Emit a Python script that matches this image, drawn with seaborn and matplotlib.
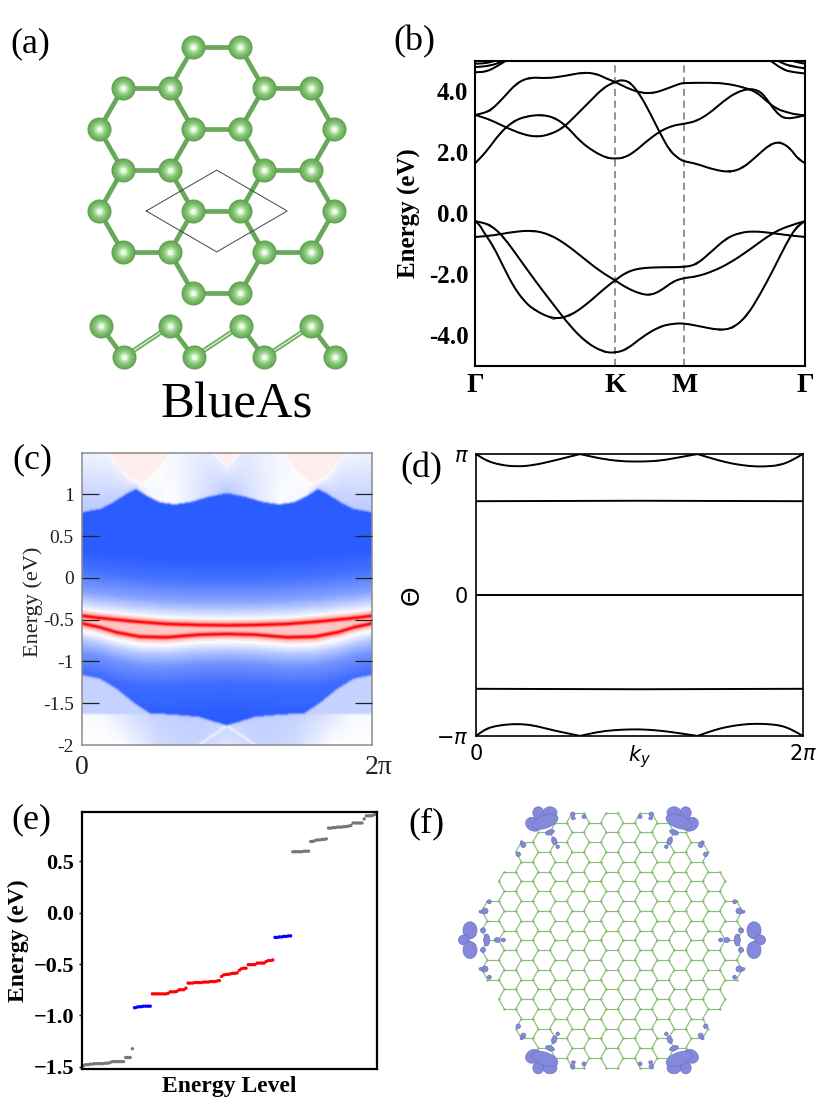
import numpy as np
import pandas as pd
import matplotlib
matplotlib.use("Agg")
import matplotlib.pyplot as plt
from matplotlib.colors import LinearSegmentedColormap
from matplotlib.collections import LineCollection
from matplotlib.patches import Ellipse, PathPatch
from matplotlib.path import Path
from matplotlib.transforms import ScaledTranslation
import seaborn as sns

sns.set_theme(style="white")
SERIF = ["Liberation Serif", "DejaVu Serif"]
plt.rcParams["font.family"] = SERIF
plt.rcParams["mathtext.fontset"] = "dejavusans"

W, H = 830, 1114

# ---------- (a) structure, in units of the in-plane bond length ----------
atom_x = [-.5, .5, -2, -1, 1, 2, -2.5, -.5, .5, 2.5, -2, -1, 1, 2, -2.5, -.5, .5, 2.5, -2, -1, 1, 2, -.5, .5]
atom_y = [3.48, 3.48, 2.61, 2.61, 2.61, 2.61, 1.74, 1.74, 1.74, 1.74, .87, .87, .87, .87,
          0, 0, 0, 0, -.87, -.87, -.87, -.87, -1.74, -1.74]
cell_x = [-1.5, 0, 1.5, 0, -1.5]
cell_y = [0, .87, 0, -.87, 0]
side_x = [-2.47, -1.98, -.99, -.49, .51, 1.01, 2.01, 2.51]
side_y = [-2.45, -3.11, -2.45, -3.11, -2.45, -3.11, -2.45, -3.11]

# ---------- (b) band structure: path length (K=419, M=627, Gamma=989), energy in eV ----------
path_ticks = [0, 419, 627, 989]
path_labels = ["Γ", "K", "M", "Γ"]
bands = {
    "c1": ([0, 34, 74, 114, 154, 199, 239, 274, 314, 354, 394, 419, 444, 474, 514, 554, 594, 627, 664, 704, 744, 784, 824, 854, 874, 894, 914, 934, 964, 989],
           [1.64, 2.03, 2.63, 3.02, 3.18, 3.23, 3.13, 2.85, 2.36, 2.03, 1.81, 1.79, 1.81, 1.98, 2.36, 2.69, 2.88, 2.93, 3.02, 3.29, 3.67, 3.97, 4.09, 4.00, 3.75, 3.43, 3.19, 3.10, 3.14, 3.21]),
    "c2": ([0, 44, 84, 124, 164, 214, 264, 324, 364, 394, 419, 454, 494, 534, 574, 614, 627, 704, 754, 804, 844, 874, 904, 934, 964, 989],
           [3.22, 3.34, 3.78, 4.27, 4.46, 4.42, 4.49, 4.62, 4.57, 4.41, 4.31, 4.11, 3.95, 3.93, 4.08, 4.25, 4.27, 4.28, 4.25, 4.13, 3.97, 3.67, 3.42, 3.31, 3.23, 3.21]),
    "c3": ([0, 44, 94, 144, 184, 224, 264, 304, 344, 384, 419, 439, 464, 494, 524, 554, 584, 614, 627, 664, 714, 764, 804, 844, 884, 914, 944, 969, 989],
           [3.22, 3.07, 2.80, 2.58, 2.50, 2.58, 2.80, 3.23, 3.67, 4.11, 4.31, 4.37, 4.30, 3.89, 3.29, 2.63, 2.03, 1.76, 1.70, 1.62, 1.43, 1.34, 1.49, 1.87, 2.26, 2.34, 2.14, 1.76, 1.64]),
    "t1l": ([0, 34, 64, 94, 120], [4.62, 4.64, 4.81, 5.01, 5.2]),
    "t1r": ([860, 884, 924, 954, 989], [5.2, 5.01, 4.70, 4.62, 4.58]),
    "t2l": ([0, 44, 84, 104], [4.79, 4.83, 4.98, 5.1]),
    "t2r": ([890, 904, 944, 989], [5.1, 5.01, 4.81, 4.75]),
    "t3l": ([0, 34, 64, 80], [4.90, 4.92, 5.01, 5.1]),
    "t3r": ([925, 939, 989], [5.1, 5.01, 4.90]),
    "v1": ([0, 14, 24, 54, 84, 114, 144, 174, 234, 284, 334, 384, 419, 454, 494, 554, 627, 664, 704, 754, 794, 834, 884, 934, 989],
           [-.26, -.40, -.60, -1.08, -1.75, -2.39, -2.85, -3.16, -3.48, -3.37, -2.99, -2.50, -2.20, -1.93, -1.80, -1.77, -1.77, -1.68, -1.30, -.81, -.64, -.59, -.64, -.72, -.78]),
    "v2": ([0, 44, 84, 134, 184, 234, 284, 334, 384, 419, 454, 504, 554, 594, 627, 674, 734, 774, 814, 854, 894, 934, 964, 989],
           [-.26, -.37, -.76, -1.52, -2.28, -2.99, -3.70, -4.25, -4.55, -4.58, -4.47, -4.03, -3.71, -3.62, -3.61, -3.71, -3.84, -3.76, -3.38, -2.67, -1.85, -.97, -.43, -.26]),
    "v3": ([0, 54, 114, 174, 224, 274, 324, 374, 419, 454, 494, 524, 554, 594, 627, 664, 714, 764, 824, 884, 934, 989],
           [-.78, -.73, -.61, -.56, -.70, -1.03, -1.47, -1.90, -2.20, -2.45, -2.64, -2.69, -2.56, -2.23, -2.12, -2.08, -1.90, -1.63, -1.19, -.70, -.43, -.26]),
}

# ---------- (c) surface spectrum: read boundaries, half of the zone (mirrored about pi) ----------
u_k, u_E = [0, .39, .68, .97, 1.17, 1.40, 1.69, 2.01, 2.34, 2.70, 3.14], [.79, .83, .91, 1.01, 1.07, .99, .91, .885, .91, .97, 1.02]
ub_k, ub_lo, ub_hi = [0, .97, 1.17, 1.40, 2.01, 2.70, 3.14], [.33, .28, .30, .05, .02, .20, .35], [.07, .04, .0, .0, .05, .12, .06]
p_k, p_E = [0, .57, .97, 1.29, 1.62, 1.90, 2.01, 2.55, 2.84, 3.14], [1.9, 1.5, 1.23, 1.13, 1.29, 1.49, 1.6, 1.6, 1.5, 1.35]
l_k, l_E = [0, .39, .75, 1.11, 1.47, 1.98, 2.55, 2.84, 3.14], [-1.156, -1.20, -1.32, -1.48, -1.615, -1.63, -1.66, -1.71, -1.76]
s1_k, s1_E = [0, .39, 1.11, 1.83, 2.55, 3.14], [-.447, -.474, -.514, -.546, -.558, -.562]
s2_k, s2_E = [0, .39, .75, 1.25, 1.83, 2.55, 3.14], [-.538, -.586, -.646, -.698, -.706, -.674, -.666]
fade_up_d, fade_up_b = [.07, .15, .3, .55, .8], [0, .22, .58, .86, 1.0]
fade_dn_d, fade_dn_b = [.09, .2, .35, .6, 1.0], [0, .33, .65, .9, 1.0]
red_d, red_r = [0, .008, .02, .035, .06, .09], [1, .95, .55, .28, .12, 0]
low_k, low_top, low_bot = [0, .5, .9, 1.1, 1.7, 2.2, 2.55, 3.14], [.02, .05, .15, .2, .28, .3, .3, .3], [0, 0, 0, .06, .22, .25, .25, .15]
side_blue = .28
pink_level = .07
between_level = .22
c_ticks = [-2, -1.5, -1, -.5, 0, .5, 1]
c_ticklabels = ["-2", "-1.5", "-1", "-0.5", "0", "0.5", "1"]

# ---------- (d) Wannier centres ----------
wcc_k = [0, .205, .46, .78, 1.10, 1.49, 2.0, 2.39, 2.77, 3.15, 3.54, 3.92, 4.26, 4.63, 4.95, 5.27, 5.53, 5.85, 6.10, 6.283]
wcc_top = [3.14, 2.99, 2.90, 2.86, 2.89, 2.99, 3.14, 3.04, 2.98, 2.97, 2.99, 3.07, 3.14, 3.01, 2.92, 2.87, 2.86, 2.89, 3.01, 3.14]
wcc_bot = [-3.14, -2.97, -2.90, -2.87, -2.90, -3.02, -3.14, -3.04, -3.0, -2.99, -3.02, -3.08, -3.14, -2.99, -2.91, -2.87, -2.87, -2.90, -3.01, -3.14]
flat_k = [0, 3.14, 6.283]
flat_upper = [2.09, 2.10, 2.09]
flat_zero = [0, 0, 0]
flat_lower = [-2.09, -2.10, -2.09]

# ---------- (e) energy levels ----------
grey_low = [-1.49, -1.48, -1.48, -1.475, -1.475, -1.47, -1.47, -1.47, -1.47, -1.47, -1.465, -1.465, -1.46, -1.45,
            -1.45, -1.45, -1.45, -1.45, -1.45, -1.41, -1.41, -1.41, -1.325]
blue_low = [-.925, -.92, -.915, -.915, -.91, -.91, -.91, -.91]
red_mid = [-.79, -.79, -.79, -.79, -.79, -.79, -.79, -.785, -.77, -.77, -.77, -.765, -.75, -.75, -.75, -.735,
           -.685, -.685, -.685, -.68, -.68, -.68, -.68, -.675, -.675, -.675, -.67, -.67, -.67, -.665, -.66, -.62,
           -.605, -.60, -.60, -.595, -.59, -.59, -.585, -.56, -.545, -.54, -.54, -.505, -.505, -.505, -.505,
           -.49, -.49, -.49, -.49, -.475, -.465, -.465, -.46]
blue_high = [-.24, -.24, -.235, -.235, -.23, -.23, -.225, -.225]
grey_high = [.595, .595, .595, .595, .595, .6, .6, .6, .695, .695, .705, .71, .71, .715, .715, .72,
             .825, .825, .83, .83, .835, .835, .835, .84, .84, .845, .85, .875, .875, .875, .875, .875,
             .915, .945, .945, .945, .95, .96]

# ---------- (f) flake: hexagons per column, charge lobes (x, y, w, h, angle) ----------
flake_rows = [4, 7, 10, 11, 12, 13, 12, 13, 12, 13, 12, 11, 10, 7, 4]
bond_len = 11.33
corner_lobes = [(-73.7, 127.5, 11, 12, 0), (-62, 127.5, 14, 12, 0), (-78.7, 116, 16, 13, -30), (-67, 118.6, 27, 13, 20),
                (-62, 108, 9, 5, 20), (-57.7, 99.3, 5, 8, 20), (-54.3, 93.6, 3.5, 3.5, 0), (-88.7, 95.3, 5, 5, 0),
                (-90.3, 98, 3, 3, 0), (-93.7, 86, 4.5, 4.5, 0), (-39.3, 126, 4.5, 4.5, 0), (-38.7, 122, 4, 3, 0),
                (-28, 123.6, 4, 4, 0)]
edge_lobes = [(-142, 10, 14, 17, 0), (-148, .3, 11, 10, 0), (-142, -9.7, 14, 17, 0), (-125.3, .3, 6, 12, 0),
              (-129, 10, 5, 5, 0), (-129, -9.7, 5, 5, 0), (-114.7, .3, 6, 5, 0), (-108.7, .3, 4, 4, 0),
              (-127, 29.3, 6, 6, 0), (-131, 28.6, 4, 3, 0), (-122.7, 38.6, 4, 4, 0),
              (-127, -28.7, 6, 6, 0), (-131, -28.7, 4, 3, 0), (-122.7, -37, 4, 4, 0)]


def px_axes(fig, left, top, right, bottom):
    return fig.add_axes([left / W, 1 - bottom / H, (right - left) / W, (bottom - top) / H])


def put(fig, s, x, y, **kw):
    return fig.text(x / W, 1 - y / H, s, va="baseline", **kw)


def round_stroke(ax, xs, ys, lw):
    """Stroke through the read values with rounded corners (quadratic curve per read value)."""
    pts = np.column_stack([xs, ys])
    if len(pts) < 3:
        return
    verts, codes = [pts[0], (pts[0] + pts[1]) / 2], [Path.MOVETO, Path.LINETO]
    for i in range(1, len(pts) - 1):
        end = (pts[i] + pts[i + 1]) / 2 if i < len(pts) - 2 else pts[-1]
        verts += [pts[i], end]
        codes += [Path.CURVE3, Path.CURVE3]
    ax.add_patch(PathPatch(Path(verts, codes), fill=False, edgecolor="black", lw=lw, zorder=2.5,
                           capstyle="round", joinstyle="round"))


fig = plt.figure(figsize=(W / 100, H / 100), dpi=100, facecolor="white")

# ---- panel (a)
ax = px_axes(fig, 50, 30, 360, 400)
ax.axis("off")
GREEN = "#68a858"
ax_, ay_ = np.array(atom_x), np.array(atom_y)
for i in range(len(ax_)):
    for j in range(i + 1, len(ax_)):
        if np.hypot(ax_[i] - ax_[j], ay_[i] - ay_[j]) < 1.05:
            ax.plot([ax_[i], ax_[j]], [ay_[i], ay_[j]], color=GREEN, lw=3.4, zorder=1, solid_capstyle="butt")
ax.plot(cell_x, cell_y, color="#444444", lw=.7, zorder=3)
for i in range(len(side_x) - 1):
    ax.plot(side_x[i:i + 2], side_y[i:i + 2], color=GREEN, lw=3.4, zorder=1, solid_capstyle="butt")
    if i % 2 == 1:
        ax.plot(side_x[i:i + 2], side_y[i:i + 2], color="#d6eecd", lw=1.1, zorder=1.5)
atoms = pd.DataFrame({"x": list(atom_x) + list(side_x), "y": list(atom_y) + list(side_y)})
for z, (size, col) in enumerate([(300, "#5f9f52"), (255, "#6cad5c"), (185, "#79ba68"), (110, "#8ecb7e"),
                                 (55, "#b2e2a5"), (18, "#eefbe9")]):
    sns.scatterplot(data=atoms, x="x", y="y", s=size, color=col, linewidth=0, ax=ax, zorder=4 + z, legend=False)
ax.set_xlabel("")
ax.set_ylabel("")
ax.set_xlim(-3.547, 3.049)
ax.set_ylim(-4.021, 3.851)

# ---- panel (b)
ax = px_axes(fig, 475.3, 60.7, 805, 365.7)
rows = [(k, e, name) for name, (ks, es) in bands.items() for k, e in zip(ks, es)]
bdf = pd.DataFrame(rows, columns=["k", "E", "band"])
for k in path_ticks[1:3]:
    ax.axvline(k, color="#8a8a8a", ls=(0, (4, 2.5)), lw=1.3, zorder=1)
sns.lineplot(data=bdf, x="k", y="E", units="band", estimator=None, sort=False, color="black", lw=.5, ax=ax,
             legend=False, zorder=2)
for ks, es in bands.values():
    round_stroke(ax, ks, es, 1.45)
ax.set_xlim(0, 989)
ax.set_ylim(-5, 5)
ax.set_xticks(path_ticks)
ax.set_xticklabels(path_labels, fontsize=20, fontweight="bold", family=SERIF)
ax.set_yticks([-4, -2, 0, 2, 4])
ax.set_yticklabels(["-4.0", "-2.0", "0.0", "2.0", "4.0"], fontsize=18, fontweight="bold", family=SERIF)
ax.tick_params(axis="both", length=0, pad=5, colors="black")
ax.set_xlabel("")
ax.set_ylabel("Energy (eV)", fontsize=18, fontweight="bold", family=SERIF, color="black")
ax.yaxis.set_label_coords(-.164, .5)
for s in ax.spines.values():
    s.set_linewidth(1.5)
    s.set_color("black")
    s.set_visible(True)

# ---- panel (c)
ax = px_axes(fig, 82, 452.7, 372.3, 745)
kgrid = np.linspace(0, 2 * np.pi, 300)
Egrid = np.linspace(-2, 1.5, 300)
K, E = np.meshgrid(kgrid, Egrid)
F = np.pi - np.abs(K - np.pi)
U = np.interp(F, u_k, u_E)
P = np.interp(F, p_k, p_E)
L = np.interp(F, l_k, l_E)
S1 = np.interp(F, s1_k, s1_E)
S2 = np.interp(F, s2_k, s2_E)
top = np.minimum(P, 1.5)
bU = np.interp(F, ub_k, ub_lo)
bT = np.interp(F, ub_k, ub_hi)
frac = np.clip((E - U) / np.maximum(top - U, .01), 0, 1)
blue = bU + (bT - bU) * frac
mid_up = np.interp(E - S1, fade_up_d, fade_up_b)
mid_dn = np.interp(S2 - E, fade_dn_d, fade_dn_b)
blue = np.where(E < U, mid_up, blue)
blue = np.where(E < S1, 0, blue)
blue = np.where(E < S2, mid_dn, blue)
floor_E = -1.615
low_t = np.interp(F, low_k, low_top)
low_b = np.interp(F, low_k, low_bot)
lowf = np.clip((floor_E - E) / (floor_E + 2), 0, 1)
lowval = low_t + (low_b - low_t) * lowf
V_line = -1.76 - (np.pi - F) * .387
gap = np.abs(E - V_line)
lowval = lowval * np.interp(gap, [0, .03], [.1, 1])
blue = np.where((E < L) & (E > floor_E), side_blue, blue)
blue = np.where((E < L) & (E <= floor_E), lowval, blue)
v = -blue
v = np.where(E > P, pink_level, v)
pad = np.pad(v, 2, mode="edge")
for _ in range(2):
    pad = (pad + np.roll(pad, 1, 0) + np.roll(pad, -1, 0) + np.roll(pad, 1, 1) + np.roll(pad, -1, 1)) / 5
v = pad[2:-2, 2:-2]
r = np.maximum(np.interp(np.abs(E - S1), red_d, red_r), np.interp(np.abs(E - S2), red_d, red_r))
r = np.where((E < S1) & (E > S2), np.maximum(r, between_level), r)
v = np.clip(v * (1 - r) + r, -1, 1)
cmap = LinearSegmentedColormap.from_list("surf", ["#2a5cff", "#ffffff", "#ff0000"])
ax.pcolormesh(kgrid, Egrid, v, cmap=cmap, vmin=-1, vmax=1, shading="gouraud", rasterized=True)
ax.set_axisbelow(False)
ax.set_xlim(0, 2 * np.pi)
ax.set_ylim(-2, 1.5)
ax.set_yticks(c_ticks)
ax.set_yticklabels(c_ticklabels, fontsize=14, family=SERIF, color="#222222")
ax.tick_params(axis="y", direction="in", length=12, width=.9, color="#222222", left=True, right=True, pad=6)
floor_tick = ax.yaxis.get_major_ticks()[0]
floor_tick.tick1line.set_visible(False)
floor_tick.tick2line.set_visible(False)
ax.set_xticks([0, 2 * np.pi])
ax.set_xticklabels(["0", "2π"], fontsize=20, family=SERIF, color="#222222")
ax.tick_params(axis="x", length=0, pad=7)
offset = ScaledTranslation(6 / 100, 0, fig.dpi_scale_trans)
last = ax.get_xticklabels()[-1]
last.set_transform(last.get_transform() + offset)
ax.set_ylabel("Energy (eV)", fontsize=16, family=SERIF, color="#222222")
ax.yaxis.set_label_coords(-.134, .49)
for s in ax.spines.values():
    s.set_linewidth(1.1)
    s.set_color("#8a8a8a")
    s.set_visible(True)

# ---- panel (d)
ax = px_axes(fig, 476, 454, 802.7, 736)
wdf = pd.concat([
    pd.DataFrame({"k": wcc_k, "w": wcc_top, "branch": "top", "weight": "thin"}),
    pd.DataFrame({"k": wcc_k, "w": wcc_bot, "branch": "bottom", "weight": "thin"}),
    pd.DataFrame({"k": flat_k, "w": flat_upper, "branch": "upper", "weight": "full"}),
    pd.DataFrame({"k": flat_k, "w": flat_zero, "branch": "zero", "weight": "full"}),
    pd.DataFrame({"k": flat_k, "w": flat_lower, "branch": "lower", "weight": "full"}),
])
sns.lineplot(data=wdf[wdf["weight"] == "full"], x="k", y="w", units="branch", estimator=None, sort=False,
             color="black", lw=1.4, ax=ax, legend=False)
sns.lineplot(data=wdf[wdf["weight"] == "thin"], x="k", y="w", units="branch", estimator=None, sort=False,
             color="black", lw=.5, ax=ax, legend=False)
for series in (wcc_top, wcc_bot):
    cusps = [i for i, val in enumerate(series) if abs(val) == 3.14]
    for a, b in zip(cusps[:-1], cusps[1:]):
        round_stroke(ax, wcc_k[a:b + 1], series[a:b + 1], 1.4)
ax.set_xlim(0, 2 * np.pi)
ax.set_ylim(-np.pi, np.pi)
ax.set_yticks([-np.pi, 0, np.pi])
ax.set_yticklabels([r"$-\pi$", "0", r"$\pi$"], fontsize=15, family="DejaVu Sans")
ax.set_xticks([0, np.pi, 2 * np.pi])
ax.set_xticklabels(["0", r"$k_y$", r"$2\pi$"], fontsize=15, family="DejaVu Sans")
ax.tick_params(axis="both", length=1.5, width=.6, pad=4, colors="black")
ax.set_xlabel("")
ax.set_ylabel("Θ", fontsize=18, family="DejaVu Sans", color="black")
ax.yaxis.set_label_coords(-.159, .5)
for s in ax.spines.values():
    s.set_linewidth(1.2)
    s.set_color("black")
    s.set_visible(True)

# ---- panel (e)
ax = px_axes(fig, 82, 811.7, 376.7, 1069.3)
levels = grey_low + blue_low + red_mid + blue_high + grey_high
kinds = (["grey"] * len(grey_low) + ["blue"] * len(blue_low) + ["red"] * len(red_mid)
         + ["blue"] * len(blue_high) + ["grey"] * len(grey_high))
edf = pd.DataFrame({"level": np.arange(len(levels)), "E": levels, "kind": kinds})
sns.scatterplot(data=edf, x="level", y="E", hue="kind", palette={"grey": "#777777", "blue": "#0000ff", "red": "#ff0000"},
                s=6, linewidth=0, ax=ax, legend=False)
ax.set_xlim(-.6, len(levels) - .4)
ax.set_ylim(-1.525, .985)
ax.set_xticks([])
ax.set_yticks([-1.5, -1, -.5, 0, .5])
ax.set_yticklabels(["−1.5", "−1.0", "−0.5", "0.0", "0.5"], fontsize=16, fontweight="bold", family=SERIF)
ax.tick_params(axis="y", length=2.5, width=1, pad=3, left=True, colors="black")
ax.set_xlabel("Energy Level", fontsize=17, fontweight="bold", family=SERIF, color="black")
ax.set_ylabel("Energy (eV)", fontsize=17, fontweight="bold", family=SERIF, color="black")
ax.yaxis.set_label_coords(-.18, .5)
ax.xaxis.set_label_coords(.5, -.027)
for s in ax.spines.values():
    s.set_linewidth(1.6)
    s.set_color("black")
    s.set_visible(True)

# ---- panel (f)
ax = px_axes(fig, 430, 795, 800, 1105)
ax.axis("off")
segs = {}
nodes = set()
apothem = bond_len * np.sqrt(3) / 2
for idx, count in enumerate(flake_rows):
    col = idx - 7
    cx = 1.5 * bond_len * col
    for n in range(count):
        cy = (n - (count - 1) / 2) * 2 * apothem
        verts = [(cx + bond_len * np.cos(a), cy + bond_len * np.sin(a)) for a in np.deg2rad(np.arange(0, 360, 60))]
        for m in range(6):
            p = tuple(float(c) for c in np.round(verts[m], 1))
            q = tuple(float(c) for c in np.round(verts[(m + 1) % 6], 1))
            segs[tuple(sorted((p, q)))] = (p, q)
            nodes.add(p)
ax.add_collection(LineCollection(list(segs.values()), colors="#86bf76", linewidths=.85, zorder=1))
ndf = pd.DataFrame(sorted(nodes), columns=["x", "y"])
sns.scatterplot(data=ndf, x="x", y="y", s=3, color="#7fc06e", linewidth=0, ax=ax, zorder=2, legend=False)
ax.set_xlabel("")
ax.set_ylabel("")
ax.set_xlim(-182, 188)
ax.set_ylim(-164.7, 145.3)
for lobes, mirrors in [(corner_lobes, [(1, 1), (-1, 1), (1, -1), (-1, -1)]), (edge_lobes, [(1, 1), (-1, 1)])]:
    for (x, y, w, h, ang) in lobes:
        for sx, sy in mirrors:
            ax.add_patch(Ellipse((sx * x, sy * y), w, h, angle=ang * sx * sy, facecolor="#8489dc",
                                 edgecolor="#6d72c4", lw=.5, zorder=3))

# ---- text labels
for s, x, y in [("(a)", 10, 52), ("(b)", 393, 50), ("(c)", 12, 468), ("(d)", 400, 477), ("(e)", 11, 828), ("(f)", 408, 832)]:
    put(fig, s, x, y, fontsize=26, color="black", family=SERIF)
put(fig, "BlueAs", 160, 417, fontsize=36.5, color="black", family=SERIF)

fig.savefig("out.png", dpi=100, facecolor="white")
